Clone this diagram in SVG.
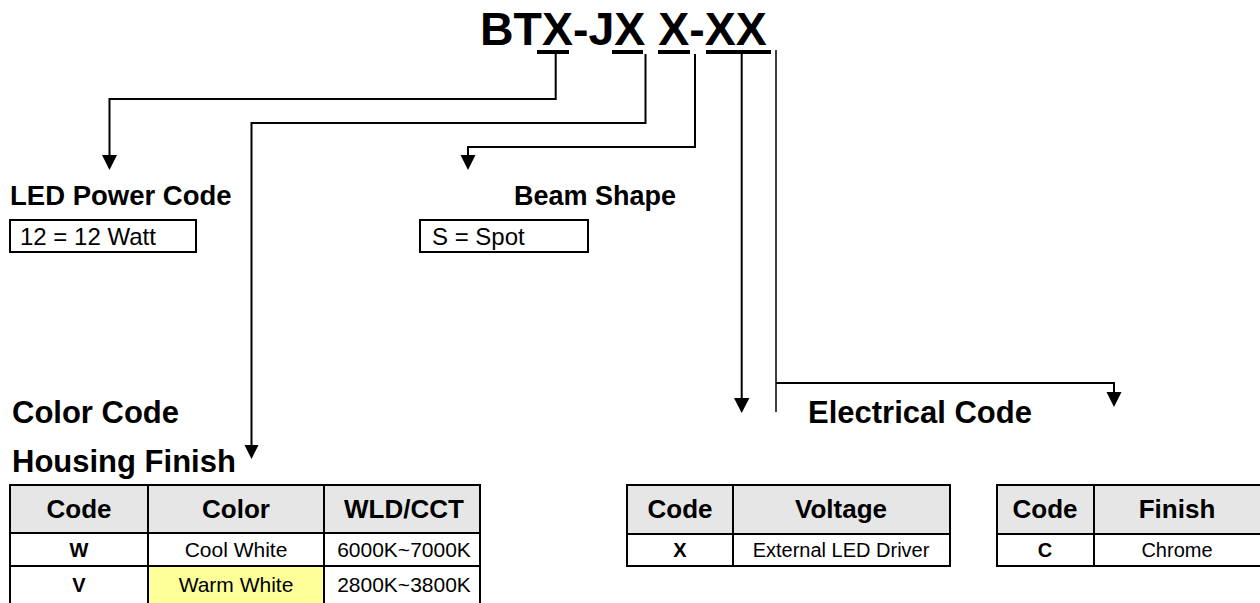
<svg xmlns="http://www.w3.org/2000/svg" width="1260" height="603" viewBox="0 0 1260 603">
<defs>
<style>
.b{font-family:"Liberation Sans",Arial,sans-serif;font-weight:bold;fill:#000}
.r{font-family:"Liberation Sans",Arial,sans-serif;fill:#000}
.c{stroke:#000;stroke-width:2;fill:none}
.thin{stroke:#000;stroke-width:1.5;fill:none}
.ah{fill:#000;stroke:none}
.cell{fill:#fff;stroke:#000;stroke-width:2}
.hdr{fill:#e6e6e6;stroke:#000;stroke-width:2}
.yel{fill:#ffff99;stroke:#000;stroke-width:2}
.box{fill:#fff;stroke:#000;stroke-width:2}
.mid{text-anchor:middle}
</style>
</defs>
<rect width="1260" height="603" fill="#fff"/>

<g id="title">
<text class="b" x="480" y="45" font-size="46.5">BTX-JX X-XX</text>
<rect x="537" y="50" width="32" height="4" fill="#000"/>
<rect x="612" y="50" width="31" height="4" fill="#000"/>
<rect x="658" y="50" width="32" height="4" fill="#000"/>
<rect x="706" y="50" width="65" height="4" fill="#000"/>
</g>

<g id="connectors">
<path class="c" d="M555.7,54 V99 H109.5 V156"/>
<polygon class="ah" points="102,155 117,155 109.5,170"/>
<path class="c" d="M645.5,54 V123 H251.5 V446"/>
<polygon class="ah" points="244.5,445 258.5,445 251.5,459"/>
<path class="c" d="M695,54 V147 H468 V156"/>
<polygon class="ah" points="460.5,155 475.5,155 468,170"/>
<path class="c" d="M741.7,54 V399"/>
<polygon class="ah" points="734,398 749.4,398 741.7,413"/>
<path class="thin" d="M776,50 V412"/>
<path class="c" d="M776,383 H1114 V393"/>
<polygon class="ah" points="1106.5,392 1121.5,392 1114,407"/>
</g>

<g id="led-power">
<text class="b" x="10" y="205" font-size="27.5">LED Power Code</text>
<rect class="box" x="10" y="220" width="186" height="32"/>
<text class="r" x="20" y="245" font-size="24">12 = 12 Watt</text>
</g>

<g id="beam-shape">
<text class="b" x="514" y="205" font-size="27">Beam Shape</text>
<rect class="box" x="420" y="220" width="168" height="32"/>
<text class="r" x="432" y="245" font-size="24">S = Spot</text>
</g>

<g id="color-code">
<text class="b" x="12" y="423" font-size="31">Color Code</text>
<text class="b" x="12" y="472" font-size="31">Housing Finish</text>
<rect class="hdr" x="10" y="485" width="138" height="48"/>
<rect class="hdr" x="148" y="485" width="176" height="48"/>
<rect class="hdr" x="324" y="485" width="156" height="48"/>
<rect class="cell" x="10" y="533" width="138" height="33"/>
<rect class="cell" x="148" y="533" width="176" height="33"/>
<rect class="cell" x="324" y="533" width="156" height="33"/>
<rect class="cell" x="10" y="566" width="138" height="40"/>
<rect class="yel" x="148" y="566" width="176" height="40"/>
<rect class="cell" x="324" y="566" width="156" height="40"/>
<text class="b mid" x="79" y="518" font-size="26">Code</text>
<text class="b mid" x="236" y="518" font-size="26">Color</text>
<text class="b mid" x="404" y="518" font-size="26">WLD/CCT</text>
<text class="b mid" x="79" y="557" font-size="20">W</text>
<text class="r mid" x="236" y="557" font-size="21">Cool White</text>
<text class="r mid" x="404" y="557" font-size="21">6000K~7000K</text>
<text class="b mid" x="79" y="592" font-size="20">V</text>
<text class="r mid" x="236" y="592" font-size="21">Warm White</text>
<text class="r mid" x="404" y="592" font-size="21">2800K~3800K</text>
</g>

<g id="electrical-code">
<text class="b" x="808" y="423" font-size="31">Electrical Code</text>
<rect class="hdr" x="627" y="485" width="106" height="49"/>
<rect class="hdr" x="733" y="485" width="217" height="49"/>
<rect class="cell" x="627" y="534" width="106" height="32"/>
<rect class="cell" x="733" y="534" width="217" height="32"/>
<text class="b mid" x="680" y="518" font-size="26">Code</text>
<text class="b mid" x="841" y="518" font-size="26">Voltage</text>
<text class="b mid" x="680" y="557" font-size="20">X</text>
<text class="r mid" x="841" y="557" font-size="20">External LED Driver</text>
</g>

<g id="finish">
<rect class="hdr" x="997" y="485" width="97" height="49"/>
<rect class="hdr" x="1094" y="485" width="168" height="49"/>
<rect class="cell" x="997" y="534" width="97" height="32"/>
<rect class="cell" x="1094" y="534" width="168" height="32"/>
<text class="b mid" x="1045" y="518" font-size="26">Code</text>
<text class="b mid" x="1177" y="518" font-size="26">Finish</text>
<text class="b mid" x="1045" y="557" font-size="20">C</text>
<text class="r mid" x="1177" y="557" font-size="20">Chrome</text>
</g>
</svg>
